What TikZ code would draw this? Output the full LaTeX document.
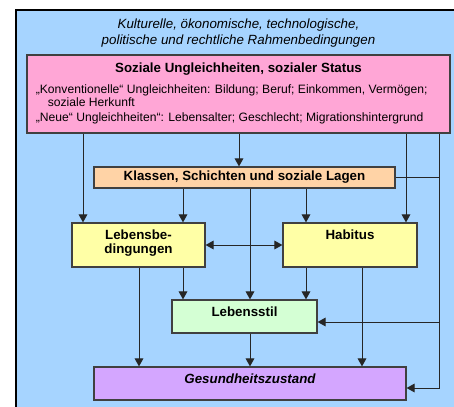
\documentclass[tikz,border=0pt]{standalone}
\usepackage{fontspec}
\setmainfont{Liberation Sans}
\usetikzlibrary{arrows.meta}
\definecolor{rahmen}{RGB}{166,212,255}
\definecolor{statusrosa}{RGB}{255,166,214}
\definecolor{klassenorange}{RGB}{255,211,166}
\definecolor{lagegelb}{RGB}{255,255,166}
\definecolor{stilgruen}{RGB}{212,255,212}
\definecolor{gesundlila}{RGB}{212,166,255}
\tikzset{
  kasten/.style={draw=black!75, line width=0.9pt, inner sep=0pt, font=\fontsize{10}{10.5}\selectfont\bfseries},
  pfeil/.style={draw=black!85, line width=0.75pt, -{Triangle[length=6pt,width=6.5pt]}},
  linie/.style={draw=black!85, line width=0.75pt},
}
% box contents, text sits near the top
\newcommand{\kastentext}[3]{\parbox[c][#2][t]{#1}{\centering\vspace{5.5pt}#3\par}}
\begin{document}
\begin{tikzpicture}[x=0.75pt,y=-0.75pt]
  \useasboundingbox (0,0) rectangle (454,407);
  % Rahmenbedingungen
  \fill[rahmen] (16,10) rectangle (454,407);
  \draw[line width=1pt] (16,407) -- (16,10) -- (454,10);
  \node[font=\fontsize{10}{12}\selectfont\itshape, align=center] (rahmentext) at (238.5,33)
    {Kulturelle, ökonomische, technologische,\\politische und rechtliche Rahmenbedingungen};

  % Boxes
  \node[kasten, fill=statusrosa, minimum width=317.25pt, minimum height=58.5pt, font=\fontsize{9.1}{8.25}\selectfont] (status) at (238.5,94)
    {\parbox[c][58.5pt][t]{310pt}{\raggedright\leftskip=3pt\vspace{6.2pt}{\centering\fontsize{10}{10}\selectfont\bfseries Soziale Ungleichheiten, sozialer Status\par}
     \vspace{6pt}„Konventionelle“ Ungleichheiten: Bildung; Beruf; Einkommen, Vermögen;\\\hspace*{9pt}soziale Herkunft\par
     \vspace{3pt}„Neue“ Ungleichheiten“: Lebensalter; Geschlecht; Migrationshintergrund\par}};
  \node[kasten, fill=klassenorange, minimum width=225.75pt, minimum height=15.75pt] (klassen) at (244.5,177.5)
    {Klassen, Schichten und soziale Lagen};
  \node[kasten, fill=lagegelb] (lebensbed) at (138.5,245)
    {\kastentext{99.75pt}{33pt}{Lebensbe-\\dingungen}};
  \node[kasten, fill=lagegelb] (habitus) at (350,245)
    {\kastentext{100.5pt}{33pt}{Habitus}};
  \node[kasten, fill=stilgruen] (lebensstil) at (244.5,316.5)
    {\kastentext{108.75pt}{24.75pt}{Lebensstil}};
  \node[kasten, fill=gesundlila] (gesund) at (250,383.5)
    {\kastentext{234pt}{24.75pt}{\itshape Gesundheitszustand}};

  % right side line
  \coordinate (rechtsoben) at (status.south -| 439,0);
  \coordinate (rechtsunten) at (439,388);
  \draw[linie] (klassen.east) -- (klassen.east -| rechtsoben);
  \draw[pfeil] (rechtsoben) -- (rechtsunten) -- (rechtsunten -| gesund.east);
  \draw[pfeil] (439,322) -- (lebensstil.east |- 0,322);

  % arrows from status
  \draw[pfeil] (status.south -| 83,0) -- (lebensbed.north -| 83,0);
  \draw[pfeil] (status.south -| 239,0) -- (klassen.north -| 239,0);
  \draw[pfeil] (status.south -| 406,0) -- (habitus.north -| 406,0);

  % arrows from klassen
  \draw[pfeil] (klassen.south -| 183,0) -- (lebensbed.north -| 183,0);
  \draw[pfeil] (klassen.south -| 306,0) -- (habitus.north -| 306,0);
  \draw[pfeil] (klassen.south -| 250,0) -- (lebensstil.north -| 250,0);

  % between lebensbedingungen and habitus
  \draw[pfeil, {Triangle[length=6pt,width=6.5pt]}-{Triangle[length=6pt,width=6.5pt]}] (lebensbed.east) -- (habitus.west);

  % to lebensstil
  \draw[pfeil] (lebensbed.south -| 183,0) -- (lebensstil.north -| 183,0);
  \draw[pfeil] (habitus.south -| 306,0) -- (lebensstil.north -| 306,0);

  % to gesundheitszustand
  \draw[pfeil] (lebensbed.south -| 139,0) -- (gesund.north -| 139,0);
  \draw[pfeil] (lebensstil.south -| 250,0) -- (gesund.north -| 250,0);
  \draw[pfeil] (habitus.south -| 362,0) -- (gesund.north -| 362,0);
\end{tikzpicture}
\end{document}
